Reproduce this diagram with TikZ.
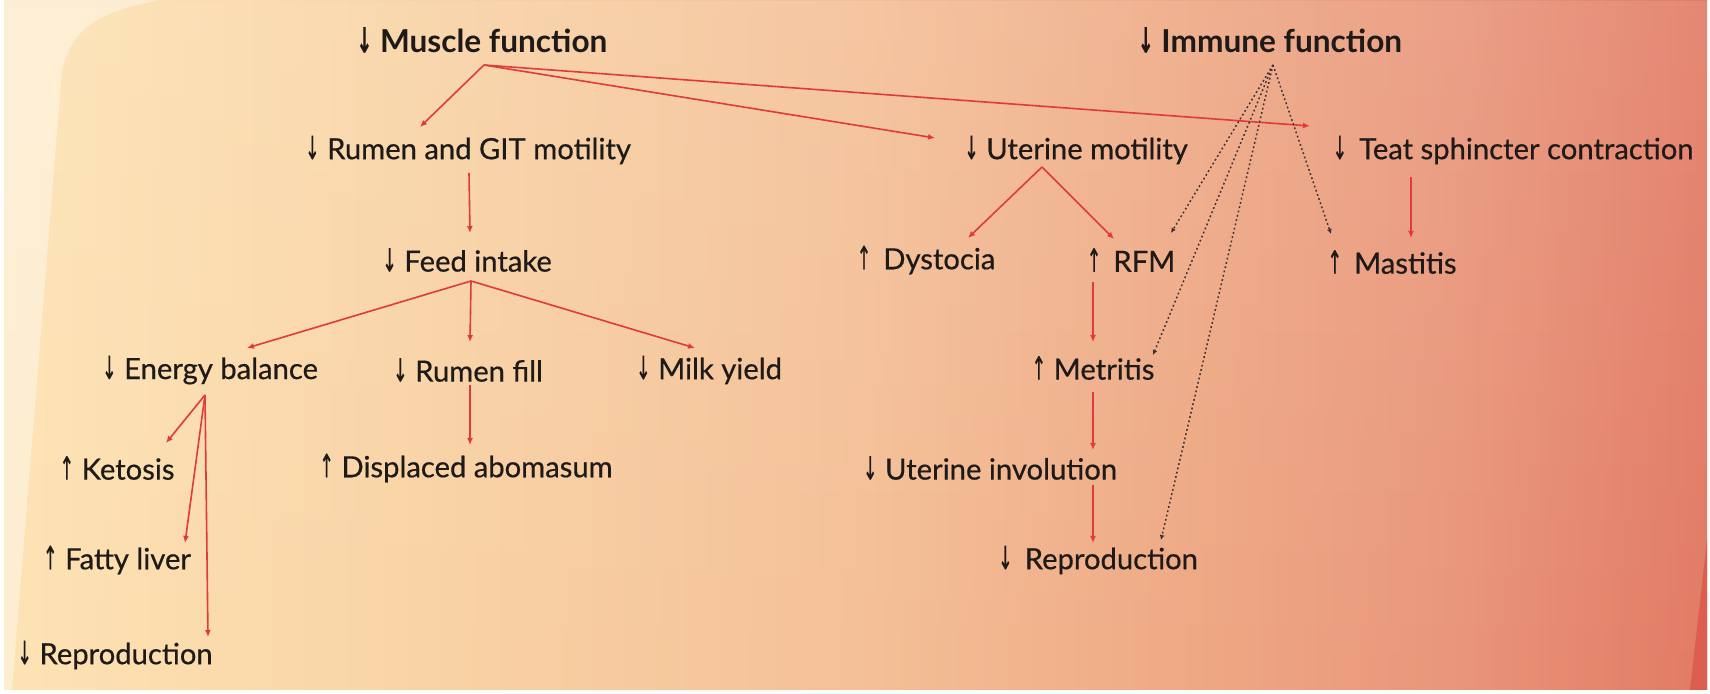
\documentclass[tikz,border=0pt]{standalone}
\usepackage{fontspec}
\setmainfont{Lato}
\newfontfamily\lblfont{Lato}[FakeBold=0.5]
\newfontfamily\arrfont{DejaVu Sans}[FakeBold=0.6]
\usetikzlibrary{arrows.meta,calc,fadings}
\definecolor{bgA}{HTML}{FDE3B4}
\definecolor{bgA2}{HTML}{F9D4A6}
\definecolor{bgB}{HTML}{F4C097}
\definecolor{bgB2}{HTML}{EEA884}
\definecolor{bgC2}{HTML}{E9967A}
\definecolor{bgC}{HTML}{E27A64}
\definecolor{bgD}{HTML}{DC5E4E}
\definecolor{edgered}{HTML}{E03A3A}
\definecolor{dotgray}{HTML}{3C3434}
\definecolor{txt}{HTML}{1E1A18}
\pgfdeclarehorizontalshading{bgshade}{100bp}{color(0bp)=(bgA); color(25bp)=(bgA); color(36.5bp)=(bgA2); color(50bp)=(bgB); color(60bp)=(bgB2); color(67.5bp)=(bgC2); color(75bp)=(bgC); color(100bp)=(bgC)}
\newcommand{\mydn}{{\arrfont\scalebox{0.6}[1.1]{↓}}}
\newcommand{\myup}{{\arrfont\scalebox{0.6}[1.1]{↑}}}
\tikzset{
  lbl/.style={inner sep=0pt, text=txt, font=\lblfont\fontsize{14.6}{17}\selectfont},
  ttl/.style={inner sep=0pt, text=txt, font=\fontsize{15.8}{18}\selectfont\bfseries},
  rarr/.style={draw=edgered, line width=0.8pt, -{Latex[length=3.5pt,width=3pt]}},
  darr/.style={draw=dotgray, line width=0.75pt, dash pattern=on 0.9pt off 1.3pt, -{Latex[length=2.5pt,width=2.5pt]}}
}
\begin{document}
\begin{tikzpicture}[x=0.5pt,y=-0.5pt]
\useasboundingbox (0,0) rectangle (1710,694);
% background
\fill[white] (0,0) rectangle (1710,694);
\shade[shading=bgshade] (4,0) rectangle (1707,690);
\fill[white, path fading=south, fill opacity=0.1] (4,0) rectangle (1707,690);
\fill[white, opacity=0.4] (4,0) -- (160,0) .. controls (95,12) and (72,30) .. (62,70) -- (12,690) -- (4,690) -- cycle;
\fill[bgD] (1707,540) -- (1707,690) -- (1690,690) -- cycle;

% nodes
\node[ttl] (muscle) at (482,40) {\mydn\ Muscle function};
\node[ttl] (immune) at (1270,40) {\mydn\ Immune function};
\node[lbl] (rumen) at (468,150) {\mydn\ Rumen and GIT motility};
\node[lbl] (uterine) at (1076,150) {\mydn\ Uterine motility};
\node[lbl] (teat) at (1513,150) {\mydn\hspace{6pt}Teat sphincter contraction};
\node[lbl] (feed) at (467,260) {\mydn\ Feed intake};
\node[lbl] (energy) at (210,370) {\mydn\ Energy balance};
\node[lbl] (rumenfill) at (468,370) {\mydn\ Rumen fill};
\node[lbl] (milk) at (709,370) {\mydn\ Milk yield};
\node[lbl] (ketosis) at (117,468) {\myup\ Ketosis};
\node[lbl] (displaced) at (466,468) {\myup\ Displaced abomasum};
\node[lbl] (fatty) at (117,560) {\myup\ Fatty liver};
\node[lbl] (reproA) at (115,655) {\mydn\ Reproduction};
\node[lbl] (dystocia) at (926,260) {\myup\hspace{6pt}Dystocia};
\node[lbl] (rfm) at (1131,260) {\myup\hspace{6pt}RFM};
\node[lbl] (mastitis) at (1392,262) {\myup\hspace{6pt}Mastitis};
\node[lbl] (metritis) at (1093,368) {\myup\ Metritis};
\node[lbl] (involution) at (990,468) {\mydn\ Uterine involution};
\node[lbl] (reproB) at (1098,560) {\mydn\hspace{6pt}Reproduction};

% red connectors
\draw[rarr] ([shift={(2,25)}]muscle.center) -- ([shift={(-48,-23)}]rumen.center);
\draw[rarr] ([shift={(2,25)}]muscle.center) -- ([shift={(-141,-12)}]uterine.center);
\draw[rarr] ([shift={(2,25)}]muscle.center) -- ([shift={(-203,-24)}]teat.center);
\draw[rarr] ([shift={(1,23)}]rumen.center) -- ([shift={(3,-27)}]feed.center);
\draw[rarr] ([shift={(4,21)}]feed.center) -- ([shift={(37,-22)}]energy.center);
\draw[rarr] ([shift={(4,21)}]feed.center) -- ([shift={(2,-28)}]rumenfill.center);
\draw[rarr] ([shift={(4,21)}]feed.center) -- ([shift={(-14,-22)}]milk.center);
\draw[rarr] ([shift={(2,15)}]rumenfill.center) -- ([shift={(4,-23)}]displaced.center);
\draw[rarr] ([shift={(-5,25)}]energy.center) -- ([shift={(49,-25)}]ketosis.center);
\draw[rarr] ([shift={(-5,25)}]energy.center) -- ([shift={(68,-17)}]fatty.center);
\draw[rarr] ([shift={(-5,25)}]energy.center) -- ([shift={(93,-18)}]reproA.center);
\draw[rarr] ([shift={(-34,17)}]uterine.center) -- ([shift={(42,-22)}]dystocia.center);
\draw[rarr] ([shift={(-34,17)}]uterine.center) -- ([shift={(-17,-21)}]rfm.center);
\draw[rarr] ([shift={(-38,22)}]rfm.center) -- ([shift={(0,-26)}]metritis.center);
\draw[rarr] ([shift={(0,24)}]metritis.center) -- ([shift={(103,-18)}]involution.center);
\draw[rarr] ([shift={(103,17)}]involution.center) -- ([shift={(-5,-17)}]reproB.center);
\draw[rarr] ([shift={(-102,27)}]teat.center) -- ([shift={(19,-24)}]mastitis.center);

% dotted connectors
\draw[darr] ([shift={(3,25)}]immune.center) -- ([shift={(40,-27)}]rfm.center);
\draw[darr] ([shift={(3,25)}]immune.center) -- ([shift={(60,-13)}]metritis.center);
\draw[darr] ([shift={(3,25)}]immune.center) -- ([shift={(63,-20)}]reproB.center);
\draw[darr] ([shift={(3,25)}]immune.center) -- ([shift={(-61,-28)}]mastitis.center);
\end{tikzpicture}
\end{document}
